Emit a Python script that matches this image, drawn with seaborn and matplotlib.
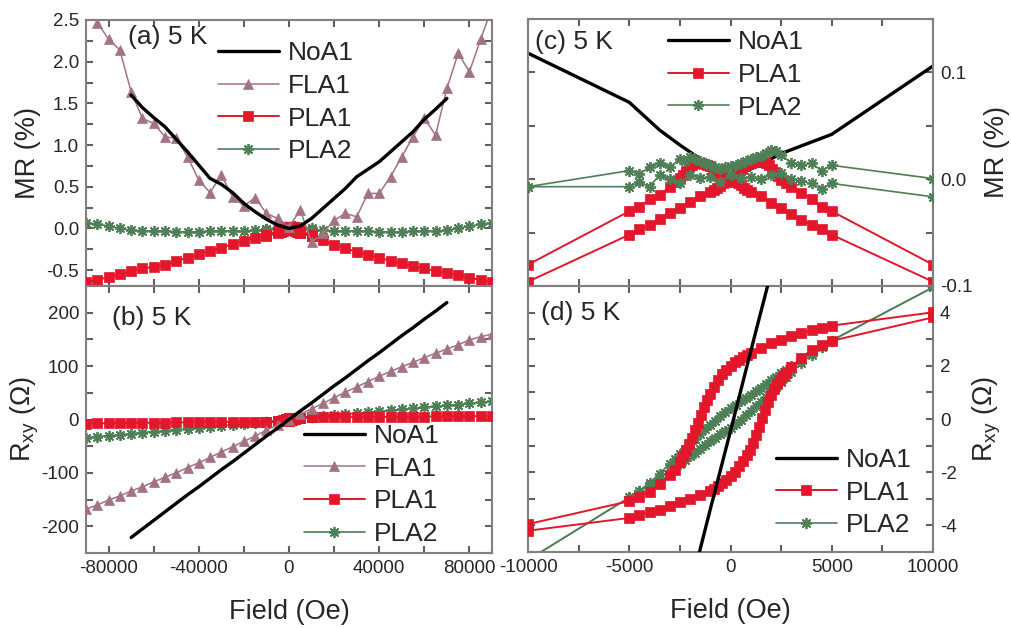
import matplotlib
matplotlib.use("Agg")
import matplotlib.pyplot as plt
from matplotlib.lines import Line2D
from matplotlib.ticker import MultipleLocator, FormatStrFormatter
import seaborn as sns

# ---- high field sweep (panels a, b) ----
field_hi = [-90000, -85000, -80000, -75000, -70000, -65000, -60000, -55000, -50000,
            -45000, -40000, -35000, -30000, -25000, -20000, -15000, -10000, -5000, 0,
            5000, 10000, 15000, 20000, 25000, 30000, 35000, 40000, 45000, 50000,
            55000, 60000, 65000, 70000, 75000, 80000, 85000, 90000]
noa1_field_hi = [-70000, -65000, -60000, -55000, -50000, -45000, -40000, -35000, -30000,
                 -25000, -20000, -15000, -10000, -5000, 0, 5000, 10000, 15000, 20000,
                 25000, 30000, 35000, 40000, 45000, 50000, 55000, 60000, 65000, 70000]

noa1_mr_hi = [1.60, 1.45, 1.33, 1.22, 1.07, 0.92, 0.76, 0.60, 0.53, 0.43, 0.30, 0.20, 0.11,
              0.04, 0.00, 0.03, 0.12, 0.24, 0.36, 0.48, 0.62, 0.71, 0.80, 0.92, 1.04, 1.16,
              1.31, 1.43, 1.56]
fla1_mr_hi = [2.70, 2.47, 2.27, 2.14, 1.64, 1.32, 1.26, 1.10, 1.08, 0.86, 0.58, 0.43, 0.64,
              0.38, 0.27, 0.37, 0.18, 0.12, 0.02, 0.22, -0.16, -0.06, 0.10, 0.18, 0.14, 0.42,
              0.42, 0.62, 0.86, 1.10, 1.32, 1.12, 1.68, 2.10, 1.88, 2.27, 2.65]
pla1_mr_hi = [-0.64, -0.62, -0.58, -0.55, -0.51, -0.48, -0.46, -0.44, -0.39, -0.35, -0.31,
              -0.27, -0.23, -0.19, -0.15, -0.11, -0.08, -0.04, -0.02, -0.05, -0.09, -0.14,
              -0.20, -0.24, -0.28, -0.32, -0.35, -0.39, -0.42, -0.45, -0.48, -0.51, -0.54,
              -0.56, -0.59, -0.62, -0.64]
pla2_mr_hi = [0.07, 0.05, 0.03, 0.00, -0.02, -0.03, -0.03, -0.03, -0.04, -0.04, -0.04, -0.03,
              -0.03, -0.03, -0.03, -0.02, -0.02, -0.01, 0.00, -0.01, -0.02, -0.02, -0.03,
              -0.03, -0.03, -0.03, -0.04, -0.04, -0.04, -0.03, -0.03, -0.03, -0.02, 0.00,
              0.03, 0.05, 0.07]

noa1_rxy_hi = [-221, -205, -189, -173, -157, -141, -126, -110, -94, -79, -63, -47, -31, -16,
               0, 16, 31, 47, 63, 78, 94, 110, 125, 141, 157, 172, 188, 203, 219]
fla1_rxy_hi = [-168, -160, -151, -143, -134, -126, -117, -108, -100, -90, -81, -71, -61, -51,
               -41, -31, -20, -10, 0, 10, 20, 30, 41, 51, 61, 71, 81, 90, 99, 107, 116, 124,
               132, 140, 149, 155, 160]
pla1_rxy_hi = [-7.5, -7.3, -7.0, -6.8, -6.5, -6.3, -6.0, -5.8, -5.5, -5.3, -5.0, -4.8, -4.6,
               -4.4, -4.2, -4.1, -4.0, -3.4, 0.0, 3.2, 3.9, 4.1, 4.3, 4.4, 4.6, 4.8, 4.9, 5.1,
               5.2, 5.4, 5.5, 5.7, 5.8, 6.0, 6.1, 6.3, 6.4]
pla2_rxy_hi = [-34, -32, -30, -28.5, -26.5, -24.5, -22.5, -21, -19, -17, -15, -13.5, -11.5,
               -9.5, -8, -6.3, -5.3, -2.95, 0.0, 2.95, 5.0, 6.5, 8.2, 10, 11.8, 13.5, 15.3,
               17, 19, 21, 22.7, 24.5, 26.3, 28, 30, 32, 34]

# ---- low field loops (panels c, d) ----
noa1_field_c = [-10000, -5000, -3500, -2500, -1500, -500, 0, 500, 1500, 2500, 5000, 10000]
noa1_mr_c = [0.118, 0.072, 0.046, 0.032, 0.019, 0.006, 0.0, 0.005, 0.014, 0.024, 0.042, 0.106]

pla1_c_down_field = [10000, 5000, 4500, 4000, 3500, 3000, 2750, 2500, 2350, 2200, 2050, 1900,
                     1750, 1600, 1450, 1300, 1150, 1000, 850, 700, 550, 400, 250, 100, -50,
                     -200, -350, -500, -650, -800, -1000, -1500, -2000, -2500, -3000, -3500,
                     -4000, -4500, -5000, -10000]
pla1_c_down_mr = [-0.080, -0.030, -0.026, -0.019, -0.013, -0.007, -0.004, -0.001, 0.003, 0.007,
                  0.010, 0.013, 0.015, 0.016, 0.0165, 0.0165, 0.016, 0.015, 0.014, 0.012,
                  0.010, 0.008, 0.005, 0.002, -0.001, -0.003, -0.004, -0.006, -0.008, -0.010,
                  -0.012, -0.016, -0.021, -0.027, -0.032, -0.037, -0.043, -0.047, -0.052,
                  -0.096]
pla1_c_up_field = [-10000, -5000, -4500, -4000, -3500, -3000, -2750, -2500, -2350, -2200,
                   -2050, -1900, -1750, -1600, -1450, -1300, -1150, -1000, -850, -700, -550,
                   -400, -250, -100, 50, 200, 350, 500, 650, 800, 1000, 1500, 2000, 2500,
                   3000, 3500, 4000, 4500, 5000, 10000]
pla1_c_up_mr = [-0.080, -0.030, -0.026, -0.019, -0.015, -0.007, -0.003, 0.001, 0.004, 0.008,
                0.011, 0.013, 0.015, 0.015, 0.015, 0.014, 0.013, 0.012, 0.010, 0.008, 0.005,
                0.003, 0.001, -0.001, -0.002, -0.003, -0.004, -0.005, -0.008, -0.010, -0.012,
                -0.016, -0.022, -0.027, -0.033, -0.038, -0.043, -0.047, -0.052, -0.096]

pla2_c_a_field = [-10000, -5000, -4500, -4000, -3500, -3000, -2500, -2250, -2000, -1750,
                  -1500, -1250, -1000, -750, -500, -250, 0, 250, 500, 750, 1000, 1250, 1500,
                  1750, 2000, 2250, 2500, 3000, 3500, 4000, 4500, 5000, 10000]
pla2_c_a_mr = [-0.007, 0.008, 0.005, 0.011, 0.015, 0.011, 0.019, 0.017, 0.021, 0.019, 0.017,
               0.015, 0.013, 0.011, 0.010, 0.011, 0.012, 0.013, 0.015, 0.017, 0.019, 0.021,
               0.022, 0.025, 0.027, 0.026, 0.023, 0.015, 0.013, 0.015, 0.008, 0.013, 0.0006]
pla2_c_b_field = [-10000, -5000, -4500, -4000, -3500, -3000, -2500, -2000, -1500, -1000,
                  -500, 0, 500, 1000, 1500, 2000, 2500, 3000, 3500, 4000, 4500, 5000, 10000]
pla2_c_b_mr = [-0.007, -0.007, -0.003, -0.007, 0.004, 0.000, -0.004, 0.004, 0.001, 0.002,
               -0.003, 0.004, 0.001, 0.002, 0.000, 0.004, 0.006, 0.000, -0.002, -0.004,
               -0.009, -0.004, -0.0165]

noa1_field_d = [-2000, -1000, 0, 1000, 2000]
noa1_rxy_d = [-6.4, -3.4, -0.45, 2.55, 5.5]

pla1_d_down_field = [10000, 5000, 4500, 4000, 3500, 3000, 2500, 2000, 1500, 1000, 800, 600,
                     400, 200, 0, -200, -400, -600, -800, -1000, -1150, -1300, -1450, -1600,
                     -1750, -1900, -2050, -2200, -2350, -2500, -2750, -3000, -3500, -4000,
                     -4500, -5000, -10000]
pla1_d_down_rxy = [4.01, 3.51, 3.42, 3.34, 3.22, 3.13, 2.98, 2.85, 2.68, 2.47, 2.40, 2.32,
                   2.23, 2.13, 2.00, 1.85, 1.68, 1.47, 1.22, 0.95, 0.72, 0.45, 0.15, -0.15,
                   -0.42, -0.70, -0.95, -1.18, -1.40, -1.63, -1.90, -2.12, -2.43, -2.73,
                   -2.92, -3.09, -3.95]
pla1_d_up_field = [-10000, -5000, -4500, -4000, -3500, -3000, -2500, -2000, -1500, -1000,
                   -800, -600, -400, -200, 0, 200, 400, 600, 800, 950, 1100, 1250, 1400, 1550,
                   1700, 1850, 2000, 2150, 2300, 2450, 2600, 2750, 3000, 3500, 4000, 4500,
                   5000, 10000]
pla1_d_up_rxy = [-4.20, -3.72, -3.60, -3.50, -3.41, -3.28, -3.13, -3.00, -2.84, -2.70, -2.62,
                 -2.53, -2.42, -2.30, -2.15, -1.98, -1.78, -1.58, -1.36, -1.15, -0.90, -0.62,
                 -0.30, 0.02, 0.35, 0.65, 0.90, 1.12, 1.32, 1.48, 1.60, 1.74, 1.96, 2.31,
                 2.59, 2.79, 2.94, 3.82]

pla2_d_up_field = [-10000, -5000, -4500, -4000, -3500, -3000, -2750, -2500, -2250, -2000,
                   -1750, -1500, -1250, -1000, -750, -500, -250, 0, 250, 500, 750, 1000, 1250,
                   1500, 1750, 2000, 2250, 2500, 2750, 3000, 3500, 4000, 4500, 5000, 10000]
pla2_d_up_rxy = [-5.30, -2.95, -2.72, -2.48, -2.22, -1.95, -1.82, -1.68, -1.54, -1.40, -1.26,
                 -1.12, -0.98, -0.84, -0.71, -0.58, -0.45, -0.32, -0.17, -0.02, 0.14, 0.30,
                 0.47, 0.65, 0.82, 1.00, 1.19, 1.38, 1.57, 1.75, 2.10, 2.42, 2.70, 2.95, 4.95]
pla2_d_down_field = [10000, 5000, 4500, 4000, 3500, 3000, 2750, 2500, 2250, 2000, 1750, 1500,
                     1250, 1000, 750, 500, 250, 0, -250, -500, -750, -1000, -1250, -1500,
                     -1750, -2000, -2250, -2500, -2750, -3000, -3500, -4000, -4500, -5000,
                     -10000]
pla2_d_down_rxy = [4.95, 2.95, 2.72, 2.50, 2.25, 2.00, 1.86, 1.72, 1.58, 1.45, 1.32, 1.18,
                   1.05, 0.92, 0.79, 0.66, 0.53, 0.40, 0.25, 0.10, -0.06, -0.22, -0.39, -0.56,
                   -0.74, -0.92, -1.11, -1.30, -1.49, -1.68, -2.05, -2.40, -2.70, -2.95, -5.30]

C_NOA = 'black'
C_FLA = '#a3737f'
C_PLA1 = '#e3162b'
C_PLA2 = '#4e7f56'
GRAY = '#5f5f5f'

LABEL_FS = 19.5
LEG_FS = 19
TICK_FS = 13.5

sns.set_theme(style="ticks")
plt.rcParams['font.family'] = ['Liberation Sans', 'DejaVu Sans']
plt.rcParams['axes.unicode_minus'] = False
plt.rcParams['mathtext.default'] = 'regular'

styles = {
    'NoA1': dict(color=C_NOA, lw=2.4, marker=None),
    'FLA1': dict(color=C_FLA, lw=1.1, marker='^', markersize=7.5, markerfacecolor=C_FLA,
                 markeredgecolor=C_FLA, markeredgewidth=0.5),
    'PLA1': dict(color=C_PLA1, lw=1.4, marker='s', markersize=6.5, markerfacecolor=C_PLA1,
                 markeredgecolor=C_PLA1, markeredgewidth=0.5),
    'PLA2': dict(color=C_PLA2, lw=1.2, marker=(8, 2, 0), markersize=8,
                 markeredgecolor=C_PLA2, markeredgewidth=1.3),
}


def draw(ax, x, y, name, z=2):
    st = dict(styles[name])
    sns.lineplot(x=x, y=y, ax=ax, sort=False, estimator=None, legend=False, zorder=z, **st)


def legend(ax, names, anchor, loc):
    handles = [Line2D([], [], **styles[n]) for n in names]
    ax.legend(handles, names, loc=loc, bbox_to_anchor=anchor, frameon=False, fontsize=LEG_FS,
              handlelength=2.3, handletextpad=0.35, labelspacing=0.33, borderpad=0,
              borderaxespad=0, numpoints=1)


def style_axes(ax, right=False, bottom_labels=True):
    for sp in ax.spines.values():
        sp.set_color('#808080')
        sp.set_linewidth(1.5)
    ax.tick_params(which='both', direction='in', top=True, right=True, left=True,
                   bottom=True, length=5, width=1.5, color=GRAY, labelsize=TICK_FS, pad=5)
    ax.tick_params(labelbottom=bottom_labels)
    if right:
        ax.tick_params(labelleft=False, labelright=True)
        ax.yaxis.set_label_position('right')


fig = plt.figure(figsize=(10.11, 6.28), dpi=100)
ax_a = fig.add_axes([86 / 1011, (628 - 286) / 628, 406 / 1011, 266 / 628])
ax_b = fig.add_axes([86 / 1011, (628 - 553) / 628, 406 / 1011, 267 / 628])
ax_c = fig.add_axes([528 / 1011, (628 - 286) / 628, 405 / 1011, 267 / 628])
ax_d = fig.add_axes([528 / 1011, (628 - 552) / 628, 405 / 1011, 266 / 628])

# (a) MR high field
draw(ax_a, field_hi, pla2_mr_hi, 'PLA2')
draw(ax_a, pla2_c_a_field, pla2_c_a_mr, 'PLA2')
draw(ax_a, pla2_c_b_field, pla2_c_b_mr, 'PLA2')
draw(ax_a, field_hi, pla1_mr_hi, 'PLA1', 3)
draw(ax_a, pla1_c_down_field, pla1_c_down_mr, 'PLA1', 3)
draw(ax_a, pla1_c_up_field, pla1_c_up_mr, 'PLA1', 3)
draw(ax_a, field_hi, fla1_mr_hi, 'FLA1', 4)
draw(ax_a, noa1_field_hi, noa1_mr_hi, 'NoA1', 5)
ax_a.set_xlim(-90000, 90000)
ax_a.set_ylim(-0.69, 2.5)
ax_a.yaxis.set_major_locator(MultipleLocator(0.5))
ax_a.yaxis.set_minor_locator(MultipleLocator(0.25))
ax_a.yaxis.set_major_formatter(FormatStrFormatter('%.1f'))
ax_a.xaxis.set_major_locator(MultipleLocator(40000))
ax_a.xaxis.set_minor_locator(MultipleLocator(20000))
style_axes(ax_a, bottom_labels=False)
ax_a.set_xlabel('')
ax_a.set_ylabel('MR (%)', fontsize=LABEL_FS, labelpad=4)
ax_a.text(0.103, 0.935, '(a) 5 K', transform=ax_a.transAxes, fontsize=LEG_FS, va='center')
legend(ax_a, ['NoA1', 'FLA1', 'PLA1', 'PLA2'], (0.325, 0.92), 'upper left')

# (b) Rxy high field
draw(ax_b, field_hi, pla2_rxy_hi, 'PLA2')
draw(ax_b, pla2_d_up_field, pla2_d_up_rxy, 'PLA2')
draw(ax_b, pla2_d_down_field, pla2_d_down_rxy, 'PLA2')
draw(ax_b, field_hi, pla1_rxy_hi, 'PLA1', 3)
draw(ax_b, pla1_d_up_field, pla1_d_up_rxy, 'PLA1', 3)
draw(ax_b, pla1_d_down_field, pla1_d_down_rxy, 'PLA1', 3)
draw(ax_b, field_hi, fla1_rxy_hi, 'FLA1', 4)
draw(ax_b, noa1_field_hi, noa1_rxy_hi, 'NoA1', 5)
ax_b.set_xlim(-90000, 90000)
ax_b.set_ylim(-250, 250)
ax_b.yaxis.set_major_locator(MultipleLocator(100))
ax_b.yaxis.set_minor_locator(MultipleLocator(50))
ax_b.xaxis.set_major_locator(MultipleLocator(40000))
ax_b.xaxis.set_minor_locator(MultipleLocator(20000))
style_axes(ax_b)
ax_b.set_xlabel('Field (Oe)', fontsize=LABEL_FS, labelpad=16)
ax_b.set_ylabel('R$_{xy}$ (Ω)', fontsize=LABEL_FS, labelpad=0)
ax_b.text(0.063, 0.88, '(b) 5 K', transform=ax_b.transAxes, fontsize=LEG_FS, va='center')
legend(ax_b, ['NoA1', 'FLA1', 'PLA1', 'PLA2'], (0.537, 0.026), 'lower left')

# (c) MR low field
draw(ax_c, noa1_field_c, noa1_mr_c, 'NoA1', 1)
draw(ax_c, pla1_c_down_field, pla1_c_down_mr, 'PLA1', 2)
draw(ax_c, pla1_c_up_field, pla1_c_up_mr, 'PLA1', 2)
draw(ax_c, pla2_c_a_field, pla2_c_a_mr, 'PLA2', 3)
draw(ax_c, pla2_c_b_field, pla2_c_b_mr, 'PLA2', 3)
ax_c.set_xlim(-10000, 10000)
ax_c.set_ylim(-0.1, 0.15)
ax_c.yaxis.set_major_locator(MultipleLocator(0.1))
ax_c.yaxis.set_minor_locator(MultipleLocator(0.05))
ax_c.yaxis.set_major_formatter(FormatStrFormatter('%.1f'))
ax_c.xaxis.set_major_locator(MultipleLocator(5000))
ax_c.xaxis.set_minor_locator(MultipleLocator(2500))
style_axes(ax_c, right=True, bottom_labels=False)
ax_c.set_xlabel('')
ax_c.set_ylabel('MR (%)', fontsize=LABEL_FS, labelpad=8)
ax_c.text(0.017, 0.915, '(c) 5 K', transform=ax_c.transAxes, fontsize=LEG_FS, va='center')
legend(ax_c, ['NoA1', 'PLA1', 'PLA2'], (0.346, 0.958), 'upper left')

# (d) Rxy low field
draw(ax_d, pla2_d_up_field, pla2_d_up_rxy, 'PLA2', 2)
draw(ax_d, pla2_d_down_field, pla2_d_down_rxy, 'PLA2', 2)
draw(ax_d, pla1_d_up_field, pla1_d_up_rxy, 'PLA1', 3)
draw(ax_d, pla1_d_down_field, pla1_d_down_rxy, 'PLA1', 3)
draw(ax_d, noa1_field_d, noa1_rxy_d, 'NoA1', 4)
ax_d.set_xlim(-10000, 10000)
ax_d.set_ylim(-5, 5)
ax_d.yaxis.set_major_locator(MultipleLocator(2))
ax_d.yaxis.set_minor_locator(MultipleLocator(1))
ax_d.xaxis.set_major_locator(MultipleLocator(5000))
ax_d.xaxis.set_minor_locator(MultipleLocator(2500))
style_axes(ax_d, right=True)
ax_d.set_xlabel('Field (Oe)', fontsize=LABEL_FS, labelpad=16)
ax_d.set_ylabel('R$_{xy}$ (Ω)', fontsize=LABEL_FS, labelpad=10)
ax_d.text(0.033, 0.898, '(d) 5 K', transform=ax_d.transAxes, fontsize=LEG_FS, va='center')
legend(ax_d, ['NoA1', 'PLA1', 'PLA2'], (0.612, 0.055), 'lower left')

fig.savefig('out.png', dpi=100)
